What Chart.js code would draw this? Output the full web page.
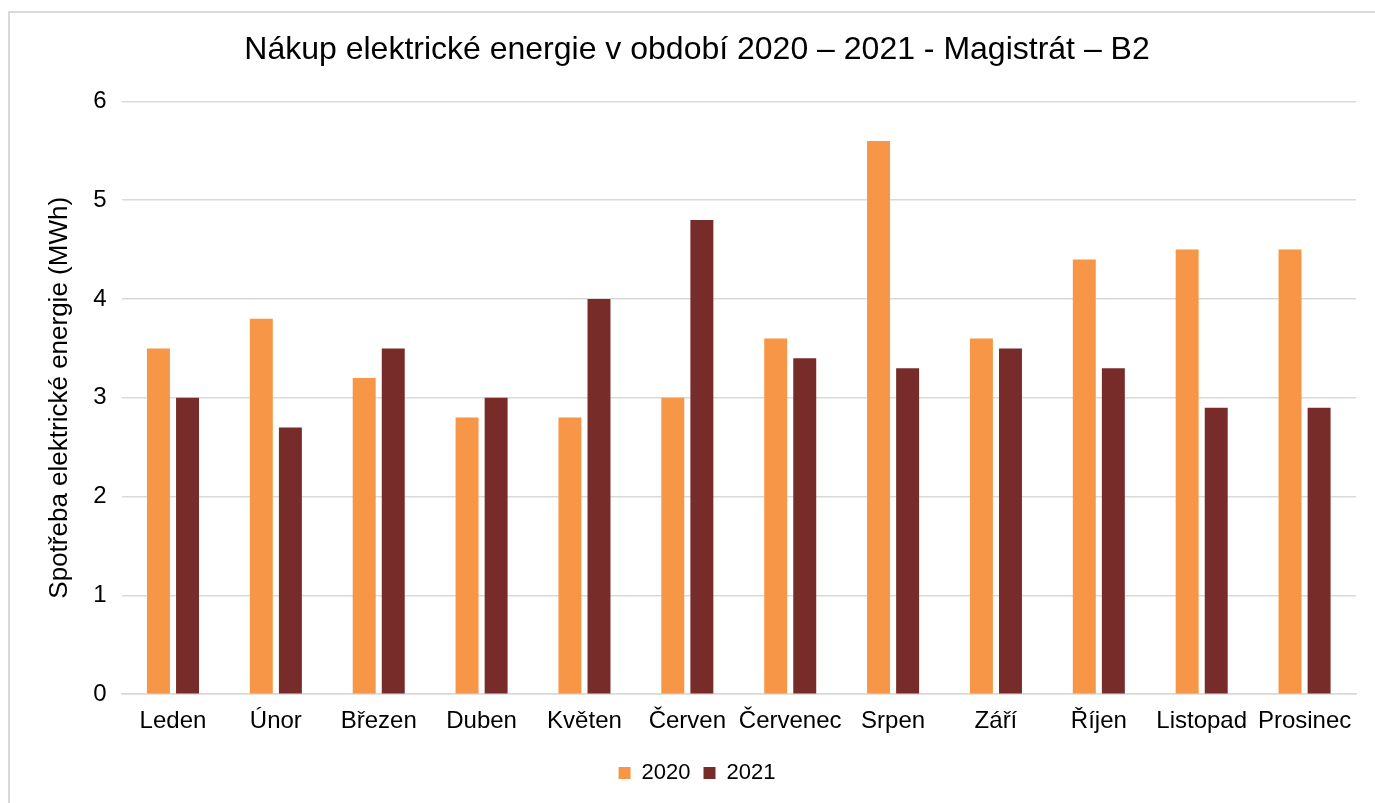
<!DOCTYPE html>
<html>
<head>
<meta charset="utf-8">
<script src="https://cdn.jsdelivr.net/npm/chart.js@4/dist/chart.umd.min.js"></script>
<style>
  html, body { margin: 0; padding: 0; background: #fff; overflow: hidden; }
  #frame { position: absolute; left: 8px; top: 11px; width: 1400px; height: 900px;
           border: 2px solid #d9d9d9; box-sizing: border-box; }
  #c { position: absolute; left: 0; top: 0; }
</style>
</head>
<body>
<div id="frame"></div>
<canvas id="c" width="1375" height="803"></canvas>
<script>
const months = ['Leden', 'Únor', 'Březen', 'Duben', 'Květen', 'Červen', 'Červenec', 'Srpen', 'Září', 'Říjen', 'Listopad', 'Prosinec'];
const values2020 = [3.5, 3.8, 3.2, 2.8, 2.8, 3.0, 3.6, 5.6, 3.6, 4.4, 4.5, 4.5];
const values2021 = [3.0, 2.7, 3.5, 3.0, 4.0, 4.8, 3.4, 3.3, 3.5, 3.3, 2.9, 2.9];
const yTicks = [0, 1, 2, 3, 4, 5, 6];

const FONT = "'Liberation Sans', Arial, sans-serif";

new Chart(document.getElementById('c'), {
  type: 'bar',
  data: {
    labels: months,
    datasets: [
      { label: '2020', data: values2020, backgroundColor: '#F79646', borderWidth: 0 },
      { label: '2021', data: values2021, backgroundColor: '#772C2A', borderWidth: 0 }
    ]
  },
  options: {
    responsive: false,
    animation: false,
    devicePixelRatio: 1,
    datasets: { bar: { categoryPercentage: 0.565, barPercentage: 0.79 } },
    layout: { padding: { left: 38, right: 19, top: 10, bottom: 9 } },
    plugins: {
      title: {
        display: true,
        text: 'Nákup elektrické energie v období 2020 – 2021 - Magistrát – B2',
        color: '#000',
        font: { family: FONT, size: 32, weight: 'normal' },
        padding: { top: 21, bottom: 32 }
      },
      legend: {
        position: 'bottom',
        labels: {
          color: '#000',
          font: { family: FONT, size: 22 },
          boxWidth: 12, boxHeight: 12,
          padding: 13
        }
      },
      tooltip: { enabled: false }
    },
    scales: {
      x: {
        grid: { display: false, drawTicks: false },
        border: { display: true, color: '#d9d9d9', width: 1.5 },
        ticks: { color: '#000', font: { family: FONT, size: 24 }, padding: 13, maxRotation: 0, autoSkip: false }
      },
      y: {
        min: 0, max: 6,
        afterBuildTicks: (axis) => { axis.ticks = yTicks.map(v => ({ value: v })); },
        grid: { color: '#d9d9d9', lineWidth: 1.5, drawTicks: false },
        border: { display: false },
        ticks: { color: '#000', font: { family: FONT, size: 24 }, padding: 15 },
        title: {
          display: true,
          text: 'Spotřeba elektrické energie (MWh)',
          color: '#000',
          font: { family: FONT, size: 26 },
          padding: { top: 6, bottom: 3 }
        }
      }
    }
  }
});
</script>
</body>
</html>
